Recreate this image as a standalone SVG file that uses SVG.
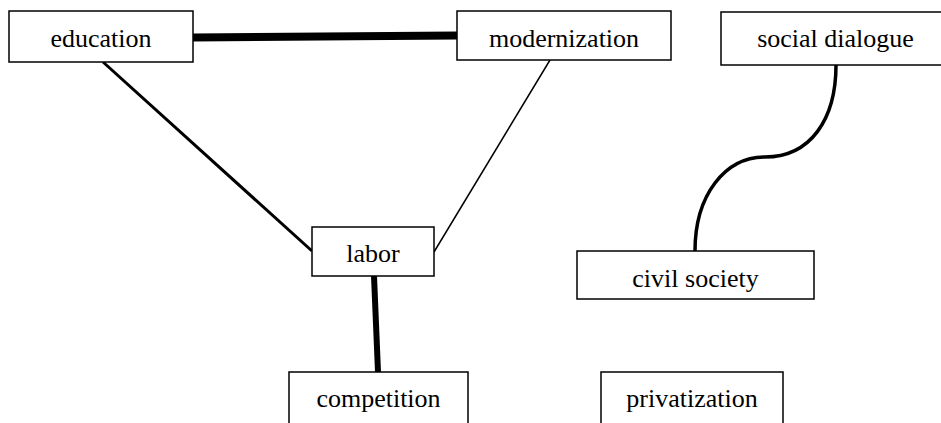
<svg xmlns="http://www.w3.org/2000/svg" width="941" height="423" viewBox="0 0 941 423">
<style>
.box{fill:#fff;stroke:#000;stroke-width:1.5}
.lbl{font-family:'Liberation Serif','DejaVu Serif',serif;font-size:26px;fill:#000;text-anchor:middle}
.edge{fill:none;stroke:#000}
</style>
<rect width="941" height="423" fill="#fff"/>
<g id="connectors">
<path class="edge" d="M193,37.5 L457,35.5" stroke-width="8"/>
<path class="edge" d="M103,62 L312,251" stroke-width="3"/>
<path class="edge" d="M550,60 L434,252" stroke-width="1.5"/>
<path class="edge" d="M374,276 L378,372" stroke-width="6"/>
<path class="edge" d="M836,65 C836,120 810,157 765,157 C725,157 695,195 695,251" stroke-width="3.5"/>
</g>
<g font-family="Liberation Serif, serif">
<g id="education"><rect class="box" x="9" y="11" width="184" height="51"/><text class="lbl" x="101" y="47">education</text></g>
<g id="modernization"><rect class="box" x="457" y="11" width="214" height="49"/><text class="lbl" x="564" y="47">modernization</text></g>
<g id="social-dialogue"><rect class="box" x="721" y="12" width="229" height="53"/><text class="lbl" x="835.5" y="47">social dialogue</text></g>
<g id="labor"><rect class="box" x="312" y="227" width="122" height="49"/><text class="lbl" x="373" y="262">labor</text></g>
<g id="civil-society"><rect class="box" x="577" y="251" width="237" height="48"/><text class="lbl" x="695.5" y="287">civil society</text></g>
<g id="competition"><rect class="box" x="289" y="372" width="179" height="60"/><text class="lbl" x="378.5" y="407">competition</text></g>
<g id="privatization"><rect class="box" x="601" y="372" width="182" height="60"/><text class="lbl" x="692" y="407">privatization</text></g>
</g>
</svg>
